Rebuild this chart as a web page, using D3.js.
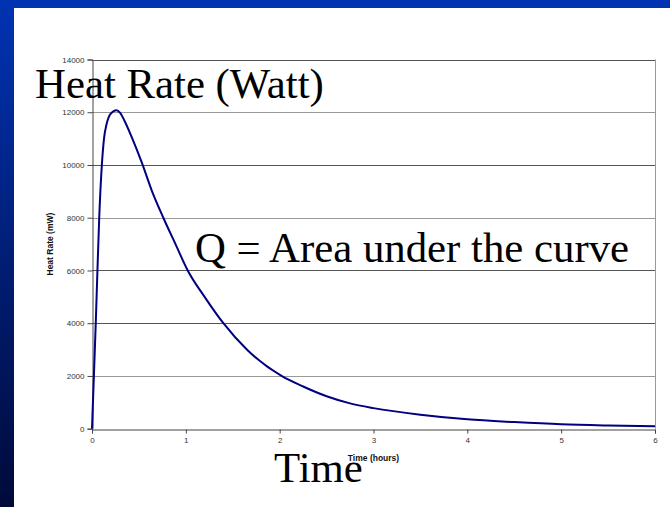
<!DOCTYPE html>
<html><head><meta charset="utf-8">
<script src="https://cdn.jsdelivr.net/npm/d3@7"></script>
<style>html,body{margin:0;padding:0;overflow:hidden;background:#fff}</style>
</head><body>
<script>
// Data
const timeHours = [0,0.02,0.04,0.058,0.077,0.105,0.128,0.157,0.2,0.26,0.3,0.35,0.43,0.53,0.64,0.76,0.89,1.02,1.2,1.4,1.65,2.02,2.25,2.5,2.75,3.0,3.5,4.0,4.5,5.0,5.5,6.0];
const heatRate  = [0,2000,4000,6000,8000,10000,11000,11570,11950,12080,11980,11650,11000,10100,9000,8000,7000,6000,5000,4000,3000,2000,1600,1230,960,780,530,356,250,166,120,90];
const xTicks = [0,1,2,3,4,5,6];
const yTicks = [0,2000,4000,6000,8000,10000,12000,14000];
const titleText = "Heat Rate (Watt)";
const noteText = "Q = Area under the curve";
const bigXText = "Time";
const xAxisTitle = "Time (hours)";
const yAxisTitle = "Heat Rate (mW)";

const W = 670, H = 507;
const svg = d3.select("body").append("svg").attr("width", W).attr("height", H);
const defs = svg.append("defs");
const g = defs.append("linearGradient").attr("id","bg").attr("x1",0).attr("y1",0).attr("x2",0).attr("y2",1);
g.append("stop").attr("offset","0%").attr("stop-color","#0033b3");
g.append("stop").attr("offset","100%").attr("stop-color","#000a3a");
svg.append("rect").attr("width",W).attr("height",H).attr("fill","url(#bg)");
svg.append("rect").attr("x",14).attr("y",8).attr("width",W-14).attr("height",H-8).attr("fill","#fff");

const L = 92, R = 655, T = 59.5, B = 428.7;
const x = d3.scaleLinear().domain([0,6]).range([L,R]);
const y = d3.scaleLinear().domain([0,14000]).range([B,T]);

// gridlines
svg.append("g").selectAll("line").data(yTicks.filter(d=>d>0)).join("line")
  .attr("x1",L).attr("x2",R)
  .attr("y1",d=>Math.round(y(d))+0.5).attr("y2",d=>Math.round(y(d))+0.5)
  .attr("stroke",d=> (d===12000||d===8000||d===2000)?"#999":"#555").attr("stroke-width",1);
// right border
svg.append("line").attr("x1",R+0.5).attr("x2",R+0.5).attr("y1",T).attr("y2",B).attr("stroke","#999");

// axes
const yAxis = d3.axisLeft(y).tickValues(yTicks).tickSize(5).tickPadding(3).tickFormat(d3.format("d"));
const yg = svg.append("g").attr("transform",`translate(${L+0.5},0)`).call(yAxis);
const xAxis = d3.axisBottom(x).tickValues(xTicks).tickSize(4).tickPadding(4).tickFormat(d3.format("d"));
const xg = svg.append("g").attr("transform",`translate(0,${Math.round(B)+0.5})`).call(xAxis);
[yg,xg].forEach(a=>{
  a.select(".domain").attr("stroke","#444");
  a.selectAll(".tick line").attr("stroke","#444");
  a.selectAll(".tick text").attr("font-family","Arial, 'Liberation Sans', sans-serif").attr("font-size","8px").attr("fill","#333");
});

// axis titles
svg.append("text").attr("x",(L+R)/2).attr("y",461).attr("text-anchor","middle")
  .attr("font-family","Arial, 'Liberation Sans', sans-serif").attr("font-weight","bold").attr("font-size","8.5px").attr("fill","#111").text(xAxisTitle);
svg.append("text").attr("transform",`translate(53,${(T+B)/2}) rotate(-90)`).attr("text-anchor","middle")
  .attr("font-family","Arial, 'Liberation Sans', sans-serif").attr("font-weight","bold").attr("font-size","8.5px").attr("fill","#111").text(yAxisTitle);

// curve
const line = d3.line().x((d,i)=>x(timeHours[i])).y(d=>y(d)).curve(d3.curveMonotoneX);
svg.append("path").datum(heatRate).attr("d",line).attr("fill","none").attr("stroke","#000080").attr("stroke-width",2);

// big overlay texts
const serif = "'Times New Roman', 'Liberation Serif', serif";
svg.append("text").attr("x",35).attr("y",98).attr("font-family",serif).attr("font-size","42.8px").attr("fill","#000").text(titleText);
svg.append("text").attr("x",195).attr("y",262).attr("font-family",serif).attr("font-size","42.8px").attr("fill","#000").text(noteText);
svg.append("text").attr("x",274).attr("y",482).attr("font-family",serif).attr("font-size","42.8px").attr("fill","#000").text(bigXText);
</script>
</body></html>
